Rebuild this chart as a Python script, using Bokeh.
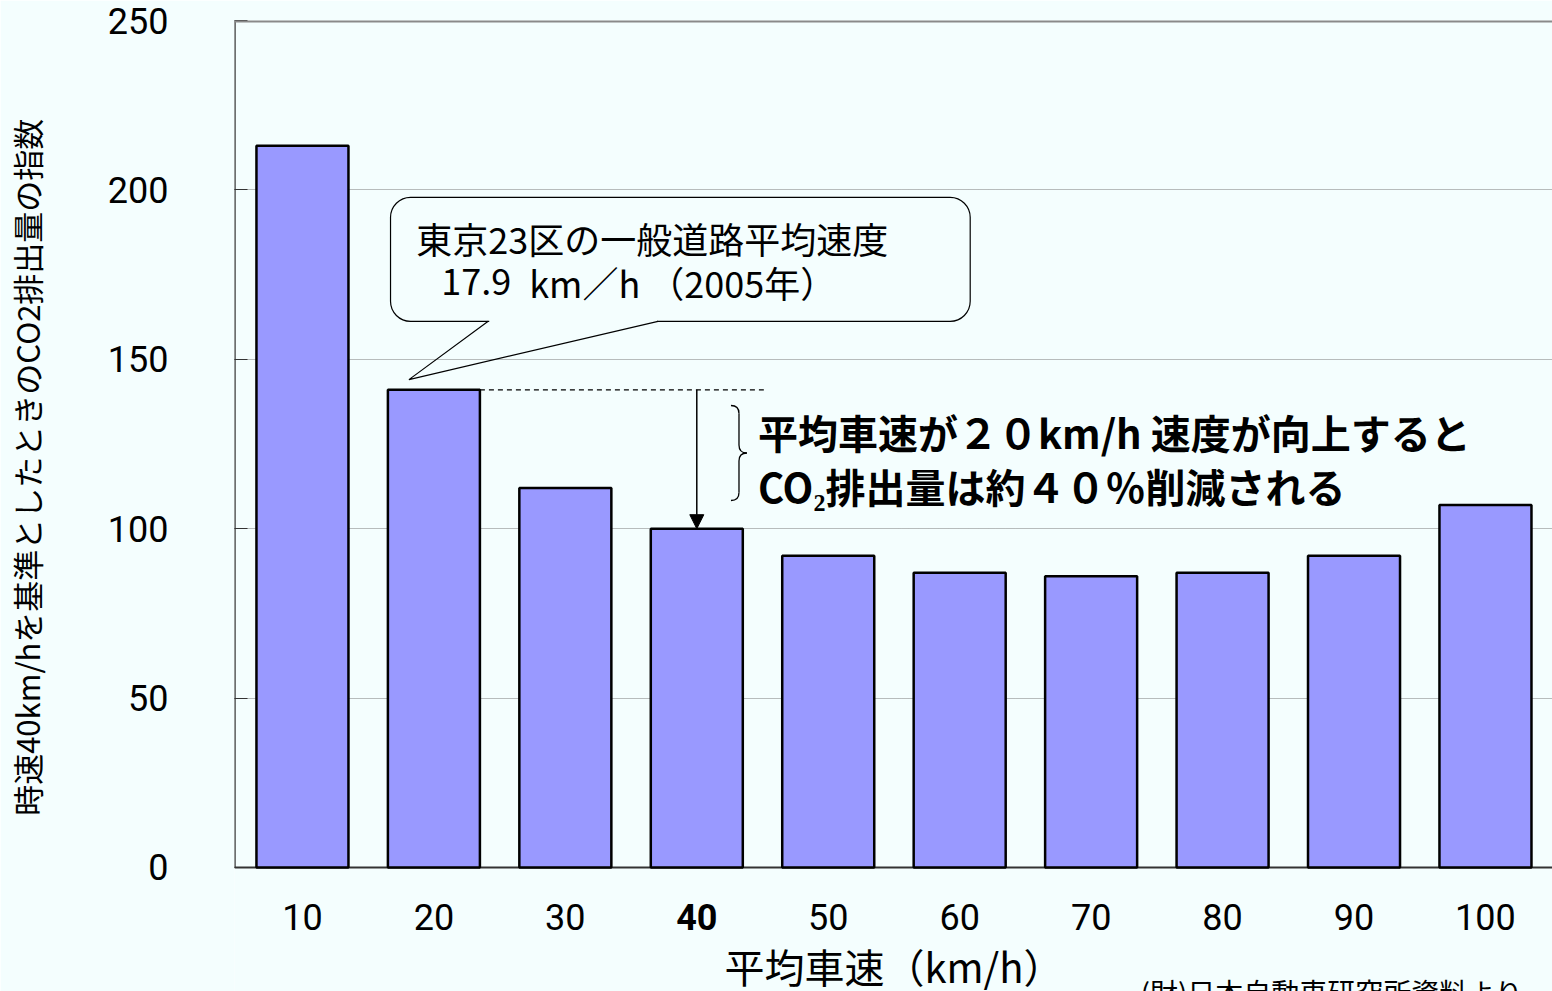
from bokeh.plotting import figure
from bokeh.models import (Range1d, FixedTicker, Span, BoxAnnotation, Arrow,
                          NormalHead)
from bokeh.core.properties import value
from bokeh.embed import file_html
from bokeh.resources import INLINE

# CO2 emission index by average vehicle speed (40 km/h = 100)
speeds = [10, 20, 30, 40, 50, 60, 70, 80, 90, 100]
co2_index = [213, 141, 112, 100, 92, 87, 86, 87, 92, 107]
y_ticks = [0, 50, 100, 150, 200, 250]

reference_speed = 40          # baseline speed, index = 100
tokyo_speed = 20              # bar nearest the Tokyo average

BG = "#F4FEFE"
BAR = "#9999FF"
AXIS = "#333333"
JP = "Noto Sans CJK JP"
NUM = "Roboto"

X0, X1 = 4.83, 105.1
Y0, Y1 = -36.6, 250           # room under zero for the speed labels

p = figure(width=1552, height=991, output_backend="svg", toolbar_location=None,
           x_range=Range1d(X0, X1), y_range=Range1d(Y0, Y1),
           x_axis_location=None,
           min_border_left=233, min_border_right=0, min_border_top=20,
           min_border_bottom=0)
p.background_fill_color = BG
p.border_fill_color = BG
p.outline_line_color = None

# value axis; the leading wide spaces lift the title above the frame centre
p.yaxis.ticker = FixedTicker(ticks=y_ticks)
p.yaxis.major_label_text_font = NUM
p.yaxis.major_label_text_font_size = "36px"
p.yaxis.major_label_text_color = "black"
p.yaxis.major_label_standoff = 66
p.yaxis.major_tick_in = 13
p.yaxis.major_tick_out = 0
p.yaxis.major_tick_line_color = AXIS
p.yaxis.minor_tick_line_color = None
p.yaxis.axis_line_color = None
p.yaxis.axis_label = "\u3000\u3000\u2002時速40km/hを基準としたときのCO2排出量の指数"
p.yaxis.axis_label_text_font = JP
p.yaxis.axis_label_text_font_size = "31px"
p.yaxis.axis_label_text_font_style = "normal"
p.yaxis.axis_label_text_color = "black"
p.yaxis.axis_label_standoff = 56

p.xgrid.grid_line_color = None
p.ygrid.grid_line_color = "#7a7a7a"
p.ygrid.grid_line_dash = "1 1"
p.ygrid.grid_line_width = 1

# frame edges: left and base lines, grey top line
p.segment(x0=[X0], y0=[0], x1=[X0], y1=[Y1], line_color=AXIS, line_width=2.4)
p.segment(x0=[X0], y0=[0], x1=[X1], y1=[0], line_color=AXIS, line_width=1.8)
p.add_layout(Span(location=Y1, dimension="width", line_color="#8a8a8a",
                  line_width=4))

# bars
p.vbar(x=speeds, top=co2_index, width=7.0, fill_color=BAR,
       line_color="black", line_width=2.5)

# speed labels under the bars (baseline speed in bold)
plain = [s for s in speeds if s != reference_speed]
p.text(x=plain, y=[-14.5] * len(plain), text=[str(s) for s in plain],
       text_font=value(NUM), text_font_size="36px", text_align="center",
       text_baseline="middle", text_color="black")
p.text(x=[reference_speed], y=[-14.5], text=[str(reference_speed)],
       text_font=value(NUM), text_font_size="36px", text_font_style="bold",
       text_align="center", text_baseline="middle", text_color="black")
p.text(x=[55.0], y=[-29.1], text=["平均車速（km/h）"], text_font=value(JP),
       text_font_size="40px", text_align="center", text_baseline="middle",
       text_color="black")
p.text(x=[73.75], y=[-30.8], text=["(財)日本自動車研究所資料より"],
       text_font=value(JP), text_font_size="28px", text_baseline="top",
       text_color="black")

# dashed level of the 20 km/h bar and arrow down to the 40 km/h bar
i20 = speeds.index(tokyo_speed)
i40 = speeds.index(reference_speed)
p.segment(x0=[tokyo_speed + 3.5], y0=[co2_index[i20]], x1=[45.1],
          y1=[co2_index[i20]], line_color="black", line_width=1.2,
          line_dash="5 4")
p.add_layout(Arrow(end=NormalHead(size=14, fill_color="black",
                                  line_color="black"),
                   x_start=reference_speed, y_start=co2_index[i20],
                   x_end=reference_speed, y_end=co2_index[i40],
                   line_color="black", line_width=1.5))

# curly brace beside the note
bx0, bx1, bx2 = 42.60, 43.21, 43.81
by_top, by_bot = 136.36, 108.32
by_mid = (by_top + by_bot) / 2
r = 2.36
p.quadratic(x0=[bx0, bx1, bx2, bx1], y0=[by_top, by_mid + r, by_mid, by_bot + r],
            x1=[bx1, bx2, bx1, bx0], y1=[by_top - r, by_mid, by_mid - r, by_bot],
            cx=[bx1, bx1, bx1, bx1], cy=[by_top, by_mid, by_mid, by_bot],
            line_color="black", line_width=1.3)
p.segment(x0=[bx1, bx1], y0=[by_top - r, by_mid - r], x1=[bx1, bx1],
          y1=[by_mid + r, by_bot + r], line_color="black", line_width=1.3)

note_lines = ["平均車速が２０km/h 速度が向上すると", "CO₂排出量は約４０％削減される"]
p.text(x=[44.65, 44.65], y=[128.4, 112.75], text=note_lines,
       text_font=value(JP), text_font_size="40px", text_font_style="bold",
       text_baseline="middle", text_color="black")

# callout for the Tokyo average speed
p.add_layout(BoxAnnotation(left=16.7, right=60.8, bottom=161.2, top=197.8,
                           fill_color=BG, fill_alpha=1.0, line_color="black",
                           line_alpha=1.0, line_width=1.2, border_radius=20))
tail_x = [24.13, 18.1, 37.05]
tail_y = [161.2, 144.0, 161.2]
p.segment(x0=[tail_x[0] + 0.08], y0=[tail_y[0]], x1=[tail_x[2] - 0.08],
          y1=[tail_y[2]], line_color=BG, line_width=4, level="overlay")
p.line(x=tail_x, y=tail_y, line_color="black", line_width=1.2,
       level="overlay")
p.text(x=[18.66], y=[185.7], text=["東京23区の一般道路平均速度"],
       text_font=value(JP), text_font_size="36px", text_baseline="middle",
       text_color="black", level="overlay")
p.text(x=[20.56], y=[172.7], text=["17.9"], text_font=value(JP),
       text_font_size="36px", text_baseline="middle", text_color="black",
       level="overlay")
p.text(x=[27.25], y=[172.7], text=["km／h （2005年）"], text_font=value(JP),
       text_font_size="36px", text_baseline="middle", text_color="black",
       level="overlay")

open("out.html", "w").write(file_html(p, INLINE))
